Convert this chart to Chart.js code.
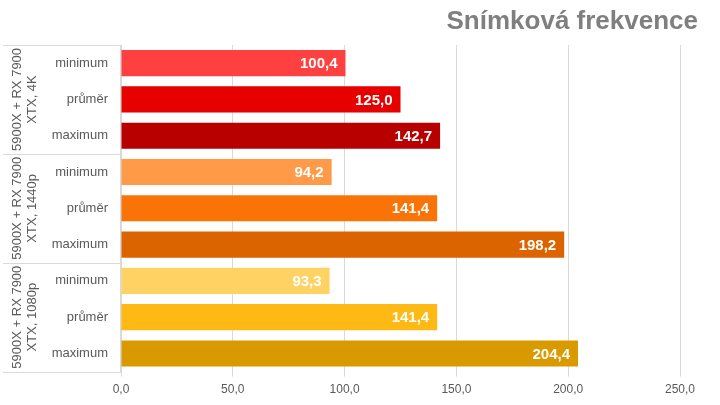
<!DOCTYPE html>
<html>
<head>
<meta charset="utf-8">
<script src="https://cdn.jsdelivr.net/npm/chart.js@4"></script>
<style>
  html, body { margin: 0; padding: 0; background: #fff; }
  #wrap { width: 720px; height: 405px; }
</style>
</head>
<body>
<div id="wrap"><canvas id="myChart" width="720" height="405"></canvas></div>
<script>
// data
let title = 'Snímková frekvence';
let groups = [['5900X + RX 7900', 'XTX, 4K'], ['5900X + RX 7900', 'XTX, 1440p'], ['5900X + RX 7900', 'XTX, 1080p']];
let labels = ['minimum', 'průměr', 'maximum', 'minimum', 'průměr', 'maximum', 'minimum', 'průměr', 'maximum'];
let fps = [100.4, 125.0, 142.7, 94.2, 141.4, 198.2, 93.3, 141.4, 204.4];
let barColors = ['#ff4040', '#e60000', '#b80000', '#ff9a48', '#f97306', '#db6300', '#ffd264', '#ffb914', '#d99a00'];
let xMax = 250;
let xStep = 50;

const FONT = '"Liberation Sans", Arial, sans-serif';
const fmt = v => Number(v).toFixed(1).replace('.', ',');

// white values inside the bar ends
const valueLabels = {
    id: 'valueLabels',
    afterDatasetsDraw(chart) {
        const ctx = chart.ctx;
        const meta = chart.getDatasetMeta(0);
        ctx.save();
        ctx.font = 'bold 15px ' + FONT;
        ctx.fillStyle = '#ffffff';
        ctx.textAlign = 'right';
        ctx.textBaseline = 'middle';
        meta.data.forEach((bar, i) => {
            ctx.fillText(fmt(fps[i]), bar.x - 8, bar.y + 1);
        });
        ctx.restore();
    }
};

// group box + rotated group names + title
const groupBox = {
    id: 'groupBox',
    afterDraw(chart) {
        const ctx = chart.ctx;
        const y = chart.scales.y;
        const left = chart.chartArea.left;
        ctx.save();
        ctx.strokeStyle = '#d9d9d9';
        ctx.lineWidth = 1;
        let per = labels.length / groups.length;
        let lines = [y.top];
        for (let g = 1; g < groups.length; g++) {
            lines.push((y.getPixelForValue(g * per - 1) + y.getPixelForValue(g * per)) / 2);
        }
        lines.push(y.bottom);
        ctx.beginPath();
        lines.forEach(ly => {
            ctx.moveTo(3, Math.round(ly) + 0.5);
            ctx.lineTo(left - 0.5, Math.round(ly) + 0.5);
        });
        ctx.moveTo(left - 0.5, y.top);
        ctx.lineTo(left - 0.5, y.bottom + 1);
        ctx.stroke();

        ctx.fillStyle = '#595959';
        ctx.font = '13px ' + FONT;
        ctx.textAlign = 'center';
        ctx.textBaseline = 'middle';
        groups.forEach((g, gi) => {
            let cy = (lines[gi] + lines[gi + 1]) / 2;
            ctx.save();
            ctx.translate(0, cy);
            ctx.rotate(-Math.PI / 2);
            ctx.fillText(g[0], 0, 17);
            ctx.fillText(g[1], 0, 32);
            ctx.restore();
        });

        ctx.fillStyle = '#7f7f7f';
        ctx.font = 'bold 26px ' + FONT;
        ctx.textAlign = 'right';
        ctx.textBaseline = 'middle';
        ctx.fillText(title, 698, 22);
        ctx.restore();
    }
};

let ctx = document.getElementById('myChart').getContext('2d');
let myChart = new Chart(ctx, {
    type: 'bar',
    data: {
        labels: labels,
        datasets: [{
            label: title,
            data: fps,
            backgroundColor: barColors,
            borderWidth: 0,
            categoryPercentage: 1,
            barPercentage: 0.72
        }]
    },
    options: {
        indexAxis: 'y',
        responsive: false,
        animation: false,
        layout: { padding: { top: 45, right: 40, bottom: 2, left: 0 } },
        plugins: {
            legend: { display: false },
            title: { display: false },
            tooltip: { enabled: false }
        },
        scales: {
            x: {
                min: 0,
                max: xMax,
                ticks: {
                    stepSize: xStep,
                    color: '#595959',
                    font: { family: FONT, size: 12 },
                    padding: 6,
                    callback: v => fmt(v)
                },
                grid: { color: '#d9d9d9', tickLength: 5, drawTicks: true },
                border: { display: false }
            },
            y: {
                afterFit(scale) { scale.width = 121; },
                ticks: {
                    color: '#595959',
                    font: { family: FONT, size: 13 },
                    padding: 13
                },
                grid: { display: false, drawTicks: false },
                border: { display: false }
            }
        }
    },
    plugins: [valueLabels, groupBox]
});
</script>
</body>
</html>
